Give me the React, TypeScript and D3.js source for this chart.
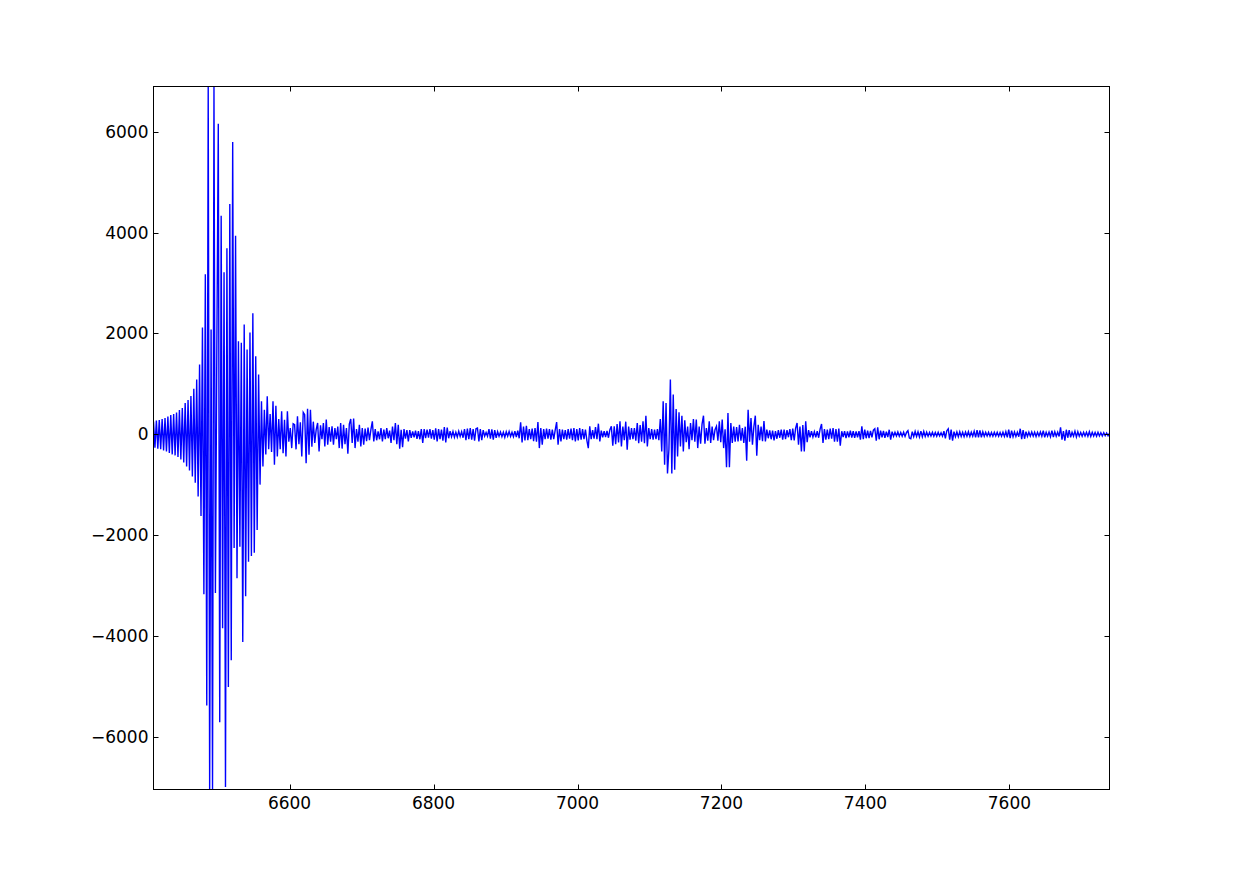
import React, { useEffect } from "react";
import * as d3 from "d3";

// Sampling of the trace (time axis)
const sampleStart = 6411;
const sampleStep = 2;

// Signal values, in order of time
const onsetValues = [
  250, -270, 270, -290, 280, -300, 300, -320, 320, -340, 350, -370, 380, -400, 400, -420, 430, -450, 480, -500,
  520, -560, 620, -640, 680, -720, 760, -840, 900, -965, 1085, -1237, 1383, -1622, 2119, -3174, 3174, -5383, 6900, -7050,
];

const mainBurstValues = [
  2080, -7050, 6900, -3150, 1747, 6159, -5715, 4334, -3851, 3214, -7000, 3690, -5018, 4567, -4487, 5800, -2259, 3937, -2856, 1847,
  -2233, 1817, -4123, 2179, -3214, 1681, -2531, 2020, -2418, 2398, -2352, 1548, -1900, 1184, -1000, 653, -640, 487, -400, 752,
];

const decayValues = [
  -300, 400, -350, 653, -607, 567, -441, 300, -300, 454, -375, 289, -441, 454, -150, 120, -275, 209, 190, -300,
  355, -200, 235, -441, 434, 388, -574, 507, -408, 484, -250, 249, -175, 90, 223, -342, 175, -100, 223, -242,
  289, -209, 143, -150, 156, -209, 122, -100, 150, -275, 223, -285, 189, -200, 122, -388, 200, 302, -175, 309,
  -275, 103, -150, 189, -242, 120, -209, 110, -140, 130, -120, 90, 255, -143, 100, -120, 56, -100, 122, -143,
  90, -100, 122, -80, 70, -175, 150, -120, 222, -200, 189, -285, 90, -255, 100, -90, 80, -143, 80, -70,
  56, -60, 70, -90, 60, -100, 103, -175, 100, -80, 90, -70, 103, -90, 80, -110, 118, -143, 100, -100,
  90, -130, 143, -163, 130, -80, 60, -50, 55, -60, 40, -55, 60, -45, 50, -70, 100, -120, 110, -100,
  120, -110, 100, -130, 110, 123, -143, 100, -120, 80, -40, 35, -40, 100, -90, 95, -109, 80, -70, 50,
  -40, 45, -50, 40, -60, 50, -40, 55, -45, 40, -50, 60, -55, 70, -80, 235, -163, 150, -125, 169,
  -120, 100, -100, 110, -140, 120, -150, 242, -275, 123, -209, 100, -100, 110, -90, 100, -110, 90, -100, 80,
  242, -209, 100, -143, 90, -100, 80, -110, 100, -90, 110, -120, 123, -143, 100, -123, 123, -110, 100, -100,
  90, -120, -275, 156, -100, 80, -90, 143, -100, 209, -143, 70, -60, 60, -55, 65, -70, 90, 156, -229,
  156, -200, 202, -163, 255, -242, 150, -120, 249, -308, 150, -109, 123, -100, 120, -130, 222, -176, 180, -150,
];

const secondArrivalValues = [
  255, -180, 368, -242, 120, -100, 100, -110, 90, -100, 100, -120, 302, -342, 653, -607, 620, -780, -300, 1085,
  -780, 786, -706, 500, -441, 434, -242, 368, -342, 275, -160, 150, -295, 222, -120, 302, -150, 289, -275, 150,
  -190, 200, 368, -190, 120, -130, 255, -175, 150, -120, 90, 156, -129, 255, -160, 289, -275, 100, -653, 421,
  -653, 222, -175, 150, -150, 140, -143, 189, -130, 120, -175, 150, -527, 487, -150, 322, -209, 150, 368, -428,
  189, -120, 150, -140, 262, -143, 90, -80, 76, -100, 70, -123, 60, -90, 80, -70, 90, -110, 90, -100,
  80, -60, 100, -120, 110, -125, 120, 222, -209, 150, -342, 180, -342, 255, -160, 80, -60, 60, -55, 50,
];

const codaValues = [
  -60, 60, -70, 100, 202, -175, 100, -110, 90, -100, 110, -90, 123, -150, 100, -150, 110, -229, 60, -55,
  60, -76, 56, -60, 70, -65, 60, -70, 55, -60, 60, -109, 156, -100, 90, -80, 70, -75, 65, -60,
  80, 109, -129, 136, -100, 70, -60, 65, -70, 50, -55, 89, -109, 50, -40, 40, -35, 45, -40, 35,
  -40, 40, -45, 35, 70, -76, -90, 50, -50, 55, -45, 50, -55, 60, -50, 55, -45, 40, -40, 35,
  -35, 40, -40, 35, -40, 40, -35, 30, -40, 60, -80, 70, 109, -109, 90, -129, 50, -50, 45, -50,
  50, -45, 40, -50, 45, -40, 50, -45, 40, -40, 60, -63, 83, -63, 75, -60, 50, -40, 40, -35,
  40, -40, 35, -40, 40, -35, 40, -40, 35, -40, 40, -45, 50, -60, 89, -76, 70, -50, 45, -45,
  40, -50, 109, -96, 80, -90, 50, -45, 40, -40, 45, -40, 40, -45, 40, -35, 45, -40, 70, -60,
  40, -40, 45, -50, 70, -55, 50, -40, 40, -45, 136, -109, 60, -129, 89, -70, 80, -60, 40, -40,
  60, -55, 50, -40, 35, -40, 40, -35, 40, -40, 50, -45, 40, -35, 35, -40, 40, -35, 30, -35,
  30, -30, 25, -30, 20,
];

const xTickValues = [6600, 6800, 7000, 7200, 7400, 7600];
const yTickValues = [-6000, -4000, -2000, 0, 2000, 4000, 6000];

const signal = [
  ...onsetValues,
  ...mainBurstValues,
  ...decayValues,
  ...secondArrivalValues,
  ...codaValues,
];
const sampleTimes = signal.map((_, i) => sampleStart + i * sampleStep);

const W = 1233;
const H = 878;
const box = { left: 153.5, right: 1109.5, top: 86.5, bottom: 789.5 };
const TICK = 5;

const fmt = (v: number) => (v < 0 ? "\u2212" + Math.abs(v) : String(v));

export default function App() {
  useEffect(() => {
    document.body.style.margin = "0";
  }, []);

  const x = d3
    .scaleLinear()
    .domain(d3.extent(sampleTimes) as [number, number])
    .range([box.left, box.right]);
  const y = d3
    .scaleLinear()
    .domain(d3.extent(signal) as [number, number])
    .range([box.bottom, box.top]);

  const path = d3
    .line<number>()
    .x((_, i) => x(sampleTimes[i]))
    .y((d) => y(d))(signal) as string;

  const font = "'DejaVu Sans', sans-serif";

  return (
    <svg
      width={W}
      height={H}
      style={{ position: "absolute", left: 0, top: 0, background: "#fff" }}
    >
      <defs>
        <clipPath id="plotClip">
          <rect
            x={box.left}
            y={box.top}
            width={box.right - box.left}
            height={box.bottom - box.top}
          />
        </clipPath>
      </defs>
      <rect x={0} y={0} width={W} height={H} fill="#fff" />
      <path
        d={path}
        fill="none"
        stroke="#0000ff"
        strokeWidth={1.4}
        strokeLinejoin="miter"
        clipPath="url(#plotClip)"
      />
      <rect
        x={box.left}
        y={box.top}
        width={box.right - box.left}
        height={box.bottom - box.top}
        fill="none"
        stroke="#000"
        strokeWidth={1}
      />
      {xTickValues.map((t) => {
        const px = Math.round(x(t)) + 0.5;
        return (
          <g key={"x" + t}>
            <line x1={px} x2={px} y1={box.bottom} y2={box.bottom - TICK} stroke="#000" />
            <line x1={px} x2={px} y1={box.top} y2={box.top + TICK} stroke="#000" />
            <text
              x={x(t)}
              y={box.bottom + 19}
              textAnchor="middle"
              fontFamily={font}
              fontSize={17}
              fill="#000"
            >
              {fmt(t)}
            </text>
          </g>
        );
      })}
      {yTickValues.map((v) => {
        const py = Math.round(y(v)) + 0.5;
        return (
          <g key={"y" + v}>
            <line x1={box.left} x2={box.left + TICK} y1={py} y2={py} stroke="#000" />
            <line x1={box.right} x2={box.right - TICK} y1={py} y2={py} stroke="#000" />
            <text
              x={box.left - 5}
              y={y(v)}
              textAnchor="end"
              dominantBaseline="central"
              fontFamily={font}
              fontSize={17}
              fill="#000"
            >
              {fmt(v)}
            </text>
          </g>
        );
      })}
    </svg>
  );
}
